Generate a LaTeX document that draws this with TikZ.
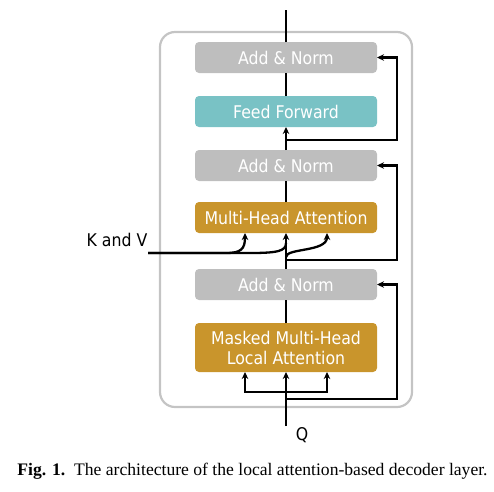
\documentclass[tikz,border=0pt]{standalone}
\usepackage{fontspec}
\setmainfont{Liberation Serif}
\newfontfamily\boxfont{DejaVu Sans Condensed}
\usetikzlibrary{positioning,arrows.meta,calc}
\definecolor{normgray}{HTML}{BEBEBE}
\definecolor{ffteal}{HTML}{79C2C5}
\definecolor{attgold}{HTML}{C9952C}
\definecolor{framegray}{HTML}{C4C4C4}
\tikzset{
  >={Stealth[length=7pt,width=6.5pt]},
  block/.style={
    rectangle,
    rounded corners=4pt,
    minimum width=182pt,
    minimum height=31pt,
    inner sep=0pt, outer sep=0pt,
    text=white, align=center,
    font=\boxfont\fontsize{17.5}{20}\selectfont},
  norm/.style={block, fill=normgray},
  feed/.style={block, fill=ffteal},
  attn/.style={block, fill=attgold},
  line/.style={draw, line width=2.3pt},
  lbl/.style={inner sep=0pt, font=\boxfont\fontsize{17.5}{20}\selectfont},
}
\begin{document}
\begin{tikzpicture}[x=1pt, y=-1pt, node distance=23pt]
  \useasboundingbox (0,0) rectangle (494,491);
  % outer frame of the layer
  \draw[framegray, line width=2.2pt, rounded corners=15pt] (160,32) rectangle (412,407);

  \node[attn, minimum height=49pt] (mmha) at (286,347.5) {Masked Multi-Head\\Local Attention};
  \node[norm, above=of mmha]              (an3) {Add \& Norm};
  \node[attn, above=36pt of an3]          (mha) {Multi-Head Attention};
  \node[norm, above=21pt of mha]          (an2) {Add \& Norm};
  \node[feed, above=of an2]               (ff)  {Feed Forward};
  \node[norm, above=of ff]                (an1) {Add \& Norm};

  \node[lbl] (kv) at (117,240) {K and V};
  \node[lbl] (q)  at (302,435) {Q};

  \coordinate (out)  at (286,10);
  \coordinate (qin)  at (286,426);
  \coordinate (kvin) at (148,253);
  \coordinate (qsplit) at (286,392);
  \coordinate (res3) at (286,399);
  \coordinate (res2) at (286,260);
  \coordinate (split2) at (286,257);
  \coordinate (res1) at (286,140);
  \coordinate (mmhaL) at ([xshift=-41pt]mmha.south);
  \coordinate (mmhaR) at ([xshift=41pt]mmha.south);
  \coordinate (mhaL) at ([xshift=-41pt]mha.south);
  \coordinate (mhaR) at ([xshift=41pt]mha.south);

  % main stream
  \path[line,->] (qin) -- (mmha.south);
  \path[line,<->] (mmhaL) |- (qsplit) -| (mmhaR);
  \path[line] (mmha.north) -- (an3.south);
  \path[line,->] (an3.north) -- (mha.south);
  \path[line] (mha.north) -- (an2.south);
  \path[line,->] (an2.north) -- (ff.south);
  \path[line] (ff.north) -- (an1.south);
  \path[line] (an1.north) -- (out);

  % keys and values
  \path[line,->] (kvin) -- (226,253) .. controls (241,253) and (245,249) .. (mhaL);
  \path[line] (kvin) -- (250,253) .. controls (278,253) and (286,251) .. (286,243);
  \path[line,->] (split2) .. controls (286,248) and (327,252) .. (mhaR);

  % residual connections
  \path[line,->] (res3) -| ([xshift=20pt]an3.east) -- (an3.east);
  \path[line,->] (res2) -| ([xshift=20pt]an2.east) -- (an2.east);
  \path[line,->] (res1) -| ([xshift=20pt]an1.east) -- (an1.east);

  \node[font=\fontsize{17.6}{20}\selectfont, anchor=base] (cap) at (252.5,475)
    {\textbf{Fig. 1.}\ \ The architecture of the local attention-based decoder layer.};
\end{tikzpicture}
\end{document}
